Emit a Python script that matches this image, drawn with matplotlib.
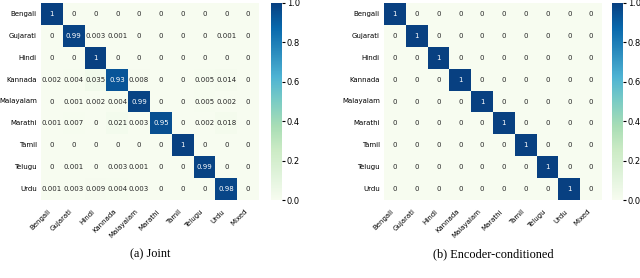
import numpy as np
import matplotlib
matplotlib.use('Agg')
import matplotlib.pyplot as plt
import seaborn as sns

rows = ['Bengali', 'Gujarati', 'Hindi', 'Kannada', 'Malayalam',
        'Marathi', 'Tamil', 'Telugu', 'Urdu']
cols = rows + ['Mixed']

# confusion matrix of the joint model (rows: true language, cols: predicted)
joint = [
    [1, 0, 0, 0, 0, 0, 0, 0, 0, 0],
    [0, 0.99, 0.003, 0.001, 0, 0, 0, 0, 0.001, 0],
    [0, 0, 1, 0, 0, 0, 0, 0, 0, 0],
    [0.002, 0.004, 0.035, 0.93, 0.008, 0, 0, 0.005, 0.014, 0],
    [0, 0.001, 0.002, 0.004, 0.99, 0, 0, 0.005, 0.002, 0],
    [0.001, 0.007, 0, 0.021, 0.003, 0.95, 0, 0.002, 0.018, 0],
    [0, 0, 0, 0, 0, 0, 1, 0, 0, 0],
    [0, 0.001, 0, 0.003, 0.001, 0, 0, 0.99, 0, 0],
    [0.001, 0.003, 0.009, 0.004, 0.003, 0, 0, 0, 0.98, 0],
]

# encoder-conditioned model is perfectly diagonal
enc_cond = [[1 if c == r else 0 for c in range(len(cols))] for r in range(len(rows))]

captions = ['(a) Joint', '(b) Encoder-conditioned']

fig = plt.figure(figsize=(6.4, 2.78), dpi=100)

# pixel extents of the heatmap and colorbar in each panel
W, H = 640.0, 278.0
boxes = [
    ((41, 259), (271, 282)),
    ((384, 602), (612, 623)),
]
top, bottom = 3, 200

for data, cap, (hx, cx) in zip([joint, enc_cond], captions, boxes):
    ax = fig.add_axes([hx[0] / W, 1 - bottom / H, (hx[1] - hx[0]) / W, (bottom - top) / H])
    cax = fig.add_axes([cx[0] / W, 1 - bottom / H, (cx[1] - cx[0]) / W, (bottom - top) / H])
    sns.heatmap(np.array(data), ax=ax, cbar_ax=cax, cmap='GnBu', vmin=0, vmax=1,
                annot=True, fmt='.2g', annot_kws={'fontsize': 5},
                xticklabels=cols, yticklabels=rows)
    ax.tick_params(axis='y', length=0, labelsize=5, pad=3)
    ax.tick_params(axis='x', length=0, labelsize=5, pad=6)
    plt.setp(ax.get_xticklabels(), rotation=45, ha='right')
    plt.setp(ax.get_yticklabels(), rotation=0)
    cax.tick_params(labelsize=6, length=2, pad=1.5)
    cax.set_yticks([0, 0.2, 0.4, 0.6, 0.8, 1.0])
    cax.set_yticklabels(['0.0', '0.2', '0.4', '0.6', '0.8', '1.0'])
    mid = (hx[0] + hx[1]) / 2 / W
    fig.text(mid, 1 - 254 / H, cap, ha='center', va='center',
             fontsize=8.8, family='Liberation Serif')

fig.savefig('out.png', dpi=100)
